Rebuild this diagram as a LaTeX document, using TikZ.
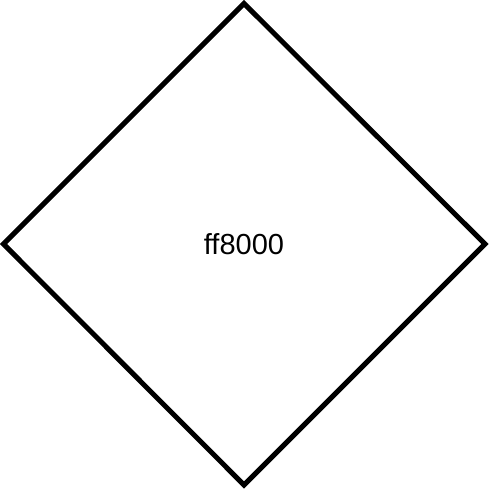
\documentclass[tikz,border=0pt]{standalone}
\usepackage{fontspec}
\setmainfont{Liberation Sans}
\begin{document}
\begin{tikzpicture}[x=1pt, y=-1pt]
    % Marco de la imagen
    \useasboundingbox (0,0) rectangle (489,489);

    % Vértices del rombo
    \coordinate (T) at (244,3.5);   % arriba
    \coordinate (R) at (485,244);   % derecha
    \coordinate (B) at (244,485);   % abajo
    \coordinate (L) at (3.5,244);   % izquierda

    % Lados del rombo
    \draw[line width=5pt, line join=miter] (T) -- (R) -- (B) -- (L) -- cycle;

    % Texto central
    \node[font=\fontsize{29}{34}\selectfont] (color) at (244,244) {ff8000};
\end{tikzpicture}
\end{document}
